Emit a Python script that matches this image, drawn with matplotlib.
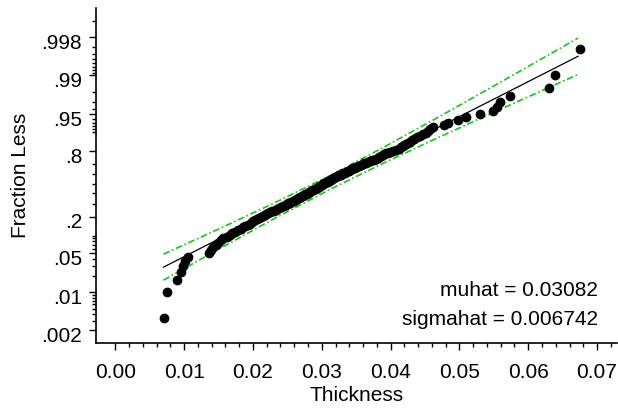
import matplotlib
matplotlib.use("Agg")
import numpy as np
import matplotlib.pyplot as plt
import matplotlib.transforms as mtransforms
from matplotlib.ticker import FixedLocator, FixedFormatter, NullFormatter

plt.rcParams["font.family"] = ["Liberation Sans", "DejaVu Sans"]

# Sorted thickness measurements
thickness = [
    0.00702, 0.00751, 0.00901, 0.00949, 0.00983, 0.01020, 0.01057, 0.01355, 0.01392, 0.01426,
    0.01457, 0.01496, 0.01533, 0.01572, 0.01617, 0.01660, 0.01700, 0.01742, 0.01782, 0.01821,
    0.01857, 0.01892, 0.01923, 0.01952, 0.01980, 0.02008, 0.02034, 0.02063, 0.02091, 0.02119,
    0.02146, 0.02171, 0.02197, 0.02222, 0.02249, 0.02277, 0.02303, 0.02329, 0.02355, 0.02380,
    0.02405, 0.02430, 0.02452, 0.02474, 0.02494, 0.02515, 0.02536, 0.02556, 0.02576, 0.02596,
    0.02615, 0.02634, 0.02653, 0.02673, 0.02691, 0.02709, 0.02727, 0.02744, 0.02761, 0.02779,
    0.02796, 0.02813, 0.02830, 0.02847, 0.02863, 0.02880, 0.02897, 0.02913, 0.02930, 0.02947,
    0.02962, 0.02978, 0.02993, 0.03008, 0.03024, 0.03038, 0.03054, 0.03069, 0.03084, 0.03099,
    0.03115, 0.03130, 0.03146, 0.03161, 0.03178, 0.03198, 0.03217, 0.03236, 0.03256, 0.03275,
    0.03295, 0.03315, 0.03335, 0.03355, 0.03376, 0.03396, 0.03416, 0.03438, 0.03458, 0.03480,
    0.03501, 0.03523, 0.03545, 0.03568, 0.03595, 0.03621, 0.03648, 0.03675, 0.03702, 0.03730,
    0.03758, 0.03787, 0.03814, 0.03836, 0.03859, 0.03883, 0.03906, 0.03931, 0.03957, 0.03991,
    0.04033, 0.04078, 0.04123, 0.04155, 0.04177, 0.04200, 0.04224, 0.04250, 0.04280, 0.04312,
    0.04345, 0.04380, 0.04421, 0.04467, 0.04514, 0.04545, 0.04580, 0.04622, 0.04782, 0.04840,
    0.04985, 0.05097, 0.05295, 0.05490, 0.05548, 0.05596, 0.05741, 0.06297, 0.06395, 0.06749,
]

# Fitted logistic parameters
muhat = 0.03082
sigmahat = 0.006742
fit_x = [0.00700, 0.06725]

# Confidence bounds around the fit
band_x = [0.00700, 0.01500, 0.02300, 0.03100, 0.03900, 0.04700, 0.05500, 0.06725]
band_upper = [0.04824, 0.1279, 0.3039, 0.5796, 0.8246, 0.9443, 0.98436, 0.99792]
band_lower = [0.01656, 0.05879, 0.1838, 0.4336, 0.7066, 0.8774, 0.9539, 0.99036]

# Probability axis ticks
ytick_major = [0.002, 0.01, 0.05, 0.2, 0.8, 0.95, 0.99, 0.998]
ytick_labels = [".002", ".01", ".05", ".2", ".8", ".95", ".99", ".998"]
ytick_minor = [0.001, 0.003, 0.004, 0.005, 0.006, 0.007, 0.008, 0.009,
               0.02, 0.03, 0.04, 0.06, 0.07, 0.08, 0.09, 0.1,
               0.3, 0.4, 0.5, 0.6, 0.7,
               0.9, 0.91, 0.92, 0.93, 0.94, 0.96, 0.97, 0.98,
               0.991, 0.992, 0.993, 0.994, 0.995, 0.996, 0.997, 0.999]
xtick_major = [0.00, 0.01, 0.02, 0.03, 0.04, 0.05, 0.06, 0.07]
xtick_labels = ["0.00", "0.01", "0.02", "0.03", "0.04", "0.05", "0.06", "0.07"]

n = len(thickness)
frac_less = [(i - 0.5) / n for i in range(1, n + 1)]
fit_p = [1.0 / (1.0 + np.exp(-(x - muhat) / sigmahat)) for x in fit_x]

fig = plt.figure(figsize=(6.18, 4.08), dpi=100)
ax = fig.add_axes([96 / 618, 1 - 343.3 / 408, (617 - 96) / 618, (343.3 - 8.3) / 408])
ax.set_yscale("logit")

green = "#17c417"
ax.plot(band_x, band_upper, color=green, lw=1.2, dashes=(4, 1.6, 1, 1.6))
ax.plot(band_x, band_lower, color=green, lw=1.2, dashes=(4, 1.6, 1, 1.6))
ax.plot(fit_x, fit_p, color="black", lw=0.9)
ax.plot(thickness, frac_less, "o", color="black", ms=6, mec="black")

ax.set_xlim(-0.0028, 0.0729)
ax.set_ylim(0.00116, 0.99941)

ax.yaxis.set_major_locator(FixedLocator(ytick_major))
ax.yaxis.set_major_formatter(FixedFormatter(ytick_labels))
ax.yaxis.set_minor_locator(FixedLocator(ytick_minor))
ax.yaxis.set_minor_formatter(NullFormatter())
ax.xaxis.set_major_locator(FixedLocator(xtick_major))
ax.xaxis.set_major_formatter(FixedFormatter(xtick_labels))
ax.xaxis.set_minor_locator(FixedLocator(np.arange(0.0, 0.0729, 0.002)))

for s in ("top", "right"):
    ax.spines[s].set_visible(False)
for s in ("left", "bottom"):
    ax.spines[s].set_linewidth(1.2)

ax.tick_params(which="major", direction="out", length=5, width=1.0, labelsize=15)
ax.tick_params(which="minor", direction="out", length=3, width=1.0)
ax.tick_params(axis="x", which="major", pad=9)
ax.tick_params(axis="y", which="major", pad=5)

offset = mtransforms.ScaledTranslation(0, -4 / 100, fig.dpi_scale_trans)
for lbl in ax.get_yticklabels():
    lbl.set_transform(lbl.get_transform() + offset)

ax.set_xlabel("Thickness", fontsize=15, labelpad=3)
ax.set_ylabel("Fraction Less", fontsize=15, labelpad=8)

ax.text(0.9635, 0.157, "muhat = 0.03082", transform=ax.transAxes,
        ha="right", va="center", fontsize=15)
ax.text(0.9635, 0.0696, "sigmahat = 0.006742", transform=ax.transAxes,
        ha="right", va="center", fontsize=15)

fig.savefig("out.png", dpi=100)
